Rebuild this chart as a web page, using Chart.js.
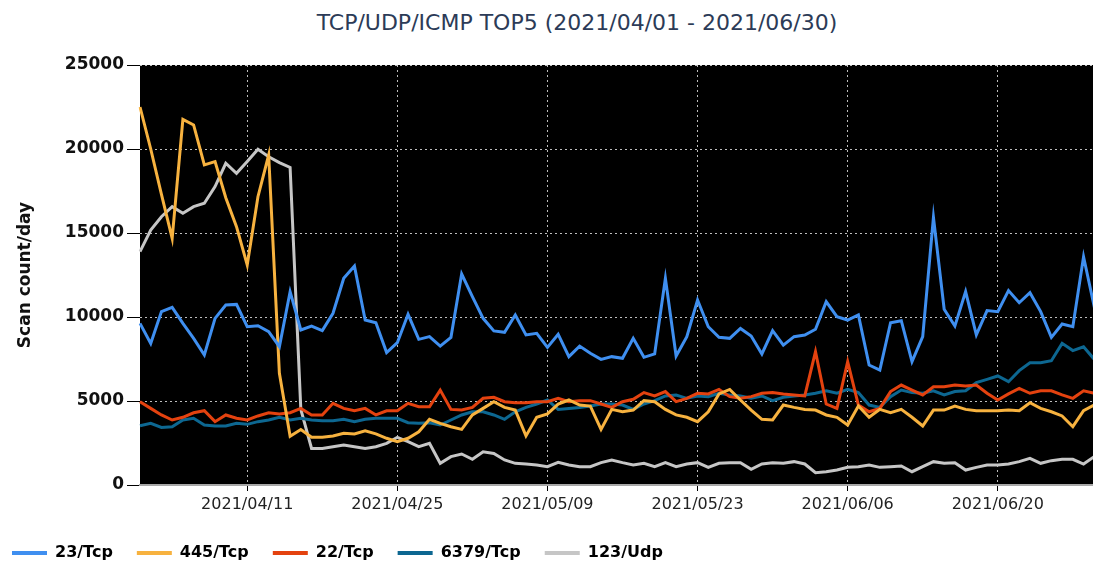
<!DOCTYPE html>
<html>
<head>
<meta charset="utf-8">
<script src="https://cdn.jsdelivr.net/npm/chart.js@4.4.1/dist/chart.umd.min.js"></script>
<style>
    html, body { margin: 0; padding: 0; background: #fff; overflow: hidden; }
    body { width: 1093px; height: 565px; position: relative; }
    #title {
        position: absolute; left: 0; top: 10px; width: 1154px;
        text-align: center; font: 22px "DejaVu Sans", sans-serif; color: #2c3b57;
    }
    #wrap { position: absolute; left: -12px; top: 0; width: 1122px; height: 565px; }
</style>
</head>
<body>
<div id="title">TCP/UDP/ICMP TOP5 (2021/04/01 - 2021/06/30)</div>
<div id="wrap"><canvas id="chart"></canvas></div>
<script>
// Days 2021/04/01 .. 2021/06/30
const startDate = Date.UTC(2021, 3, 1);
const dayCount = 91;
const days = [];
for (let i = 0; i < dayCount; i++) {
    const d = new Date(startDate + i * 86400000);
    const mm = String(d.getUTCMonth() + 1).padStart(2, '0');
    const dd = String(d.getUTCDate()).padStart(2, '0');
    days.push(`${d.getUTCFullYear()}/${mm}/${dd}`);
}

const tickDates = ['2021/04/11', '2021/04/25', '2021/05/09', '2021/05/23', '2021/06/06', '2021/06/20'];
const yTicks = [0, 5000, 10000, 15000, 20000, 25000];

const tcp23 = [
    9620, 8430, 10320, 10570, 9620, 8730, 7740, 9920, 10710, 10750,
    9420, 9480, 9130, 8230, 11510, 9230, 9460, 9190, 10220, 12300,
    13030, 9820, 9660, 7880, 8470, 10160, 8670, 8830, 8270, 8790,
    12560, 11210, 9920, 9170, 9090, 10120, 8930, 9030, 8190, 8970,
    7640, 8270, 7840, 7480, 7640, 7540, 8730, 7600, 7800, 12300,
    7680, 8830, 11010, 9420, 8790, 8730, 9320, 8870, 7800, 9190,
    8330, 8830, 8930, 9270, 10910, 10020, 9820, 10120, 7140, 6840,
    9660, 9780, 7340, 8830, 15930, 10460, 9460, 11510, 8930, 10380,
    10320, 11570, 10850, 11450, 10320, 8790, 9580, 9420, 13590, 10610,
    10400
];
const tcp445 = [
    22500, 20000, 17300, 14680, 21760, 21430, 19050, 19250, 17100, 15380,
    13100, 17160, 19640, 6650, 2900, 3300, 2840, 2840, 2920, 3080,
    3040, 3230, 3040, 2780, 2580, 2780, 3170, 3910, 3670, 3470,
    3310, 4170, 4560, 4960, 4620, 4460, 2920, 4030, 4230, 4820,
    5060, 4760, 4700, 3310, 4500, 4360, 4460, 5020, 4960, 4500,
    4170, 4030, 3770, 4360, 5420, 5690, 5060, 4460, 3910, 3870,
    4760, 4620, 4500, 4460, 4170, 4030, 3570, 4700, 4030, 4500,
    4300, 4500, 4030, 3510, 4460, 4460, 4700, 4500, 4420, 4420,
    4420, 4460, 4420, 4900, 4560, 4360, 4110, 3470, 4420, 4760,
    4900
];
const tcp22 = [
    4960, 4560, 4170, 3870, 4030, 4300, 4420, 3770, 4170, 3970,
    3870, 4110, 4300, 4230, 4300, 4560, 4170, 4170, 4860, 4560,
    4420, 4560, 4170, 4420, 4420, 4860, 4660, 4660, 5650, 4500,
    4460, 4620, 5160, 5220, 4960, 4900, 4900, 4960, 4960, 5160,
    4960, 5020, 5020, 4820, 4620, 4960, 5100, 5500, 5300, 5560,
    4960, 5160, 5460, 5420, 5690, 5260, 5160, 5260, 5460, 5500,
    5420, 5360, 5300, 7940, 4820, 4560, 7340, 4760, 4360, 4560,
    5560, 5950, 5650, 5360, 5850, 5850, 5950, 5890, 5950, 5460,
    5060, 5420, 5750, 5460, 5610, 5610, 5360, 5160, 5610, 5460,
    5500
];
const tcp6379 = [
    3530, 3670, 3430, 3470, 3870, 3970, 3570, 3510, 3510, 3670,
    3610, 3770, 3870, 4030, 3870, 3970, 3870, 3830, 3830, 3910,
    3770, 3910, 3970, 3970, 3970, 3710, 3670, 3710, 3570, 3870,
    4170, 4360, 4360, 4170, 3910, 4360, 4620, 4820, 5060, 4500,
    4560, 4620, 4700, 4820, 4820, 4760, 4500, 4820, 5020, 5300,
    5360, 5160, 5300, 5260, 5460, 5360, 5300, 5160, 5300, 5020,
    5220, 5300, 5360, 5460, 5610, 5460, 5690, 5500, 4760, 4620,
    5260, 5650, 5500, 5460, 5610, 5360, 5560, 5610, 6090, 6290,
    6490, 6150, 6810, 7280, 7280, 7400, 8430, 8000, 8230, 7480,
    7300
];
const udp123 = [
    13890, 15180, 15970, 16570, 16170, 16570, 16770, 17760, 19150, 18550,
    19250, 19980, 19540, 19190, 18900, 4500, 2180, 2180, 2280, 2380,
    2280, 2180, 2280, 2480, 2840, 2580, 2280, 2480, 1290, 1690,
    1845, 1530, 1980, 1880, 1490, 1290, 1250, 1190, 1090, 1350,
    1190, 1090, 1090, 1330, 1490, 1330, 1190, 1290, 1090, 1330,
    1090, 1250, 1330, 1050, 1290, 1330, 1330, 930, 1250, 1330,
    1290, 1390, 1250, 730, 790, 890, 1050, 1090, 1190, 1050,
    1090, 1130, 790, 1090, 1390, 1290, 1330, 890, 1050, 1190,
    1190, 1250, 1390, 1590, 1290, 1450, 1530, 1530, 1250, 1690,
    1800
];

const seriesNames = ['23/Tcp', '445/Tcp', '22/Tcp', '6379/Tcp', '123/Udp'];
const seriesColors = ['#3f8ff0', '#f7b23f', '#e4420f', '#0d6791', '#c6c6c6'];
const seriesData = [tcp23, tcp445, tcp22, tcp6379, udp123];

const gridColor = '#bdbdbd';

// Paint the plot area black before the grid is drawn
const plotBackground = {
    id: 'plotBackground',
    beforeDraw(chart) {
        const { ctx, chartArea } = chart;
        ctx.save();
        ctx.fillStyle = '#000';
        ctx.fillRect(chartArea.left, chartArea.top, chartArea.right - chartArea.left, chartArea.bottom - chartArea.top);
        ctx.restore();
    }
};

const isTickDay = index => tickDates.includes(days[index]);

new Chart(document.getElementById('chart'), {
    type: 'line',
    data: {
        labels: days,
        datasets: seriesNames.map((name, i) => ({
            label: name,
            data: seriesData[i],
            borderColor: seriesColors[i],
            backgroundColor: seriesColors[i],
            borderWidth: 3,
            pointRadius: 0,
            tension: 0,
            fill: false
        }))
    },
    options: {
        responsive: true,
        maintainAspectRatio: false,
        animation: false,
        layout: { padding: { left: 0, right: 5, top: 65, bottom: 0 } },
        plugins: {
            title: { display: false },
            tooltip: { enabled: false },
            legend: {
                position: 'bottom',
                align: 'start',
                maxHeight: 44,
                labels: {
                    boxWidth: 35,
                    boxHeight: 4,
                    padding: 24,
                    color: '#222',
                    font: { family: 'DejaVu Sans', size: 16, weight: 'bold' },
                    generateLabels(chart) {
                        return chart.data.datasets.map((ds, i) => ({
                            text: ds.label,
                            fillStyle: ds.borderColor,
                            strokeStyle: ds.borderColor,
                            lineWidth: 0,
                            hidden: false,
                            datasetIndex: i
                        }));
                    }
                }
            }
        },
        scales: {
            x: {
                type: 'category',
                offset: false,
                afterFit(scale) { scale.height = 36; },
                border: { display: true, color: '#a8a8a8', width: 2, dash: [2, 3] },
                grid: {
                    color: ctx => isTickDay(ctx.index) ? gridColor : 'transparent',
                    tickColor: ctx => isTickDay(ctx.index) ? '#000' : 'transparent',
                    tickLength: 6,
                    lineWidth: 1
                },
                ticks: {
                    autoSkip: false,
                    maxRotation: 0,
                    padding: 4,
                    color: '#222',
                    font: { family: 'DejaVu Sans', size: 16 },
                    callback: (value, index) => isTickDay(index) ? days[index] : ''
                }
            },
            y: {
                min: yTicks[0],
                max: yTicks[yTicks.length - 1],
                afterFit(scale) { scale.width = 152; },
                afterBuildTicks(scale) { scale.ticks = yTicks.map(v => ({ value: v })); },
                border: { display: false, dash: [2, 3] },
                grid: {
                    color: ctx => ctx.tick && ctx.tick.value === 0 ? 'transparent' : gridColor,
                    tickColor: '#000',
                    tickBorderDash: [],
                    tickLength: 13,
                    lineWidth: 1
                },
                ticks: {
                    padding: 3,
                    color: '#111',
                    font: { family: 'DejaVu Sans', size: 17, weight: 'bold' },
                    callback: value => String(value)
                },
                title: {
                    display: true,
                    text: 'Scan count/day',
                    color: '#111',
                    padding: { top: 27, bottom: 0 },
                    font: { family: 'DejaVu Sans', size: 17, weight: 'bold' }
                }
            }
        }
    },
    plugins: [plotBackground]
});
</script>
</body>
</html>
